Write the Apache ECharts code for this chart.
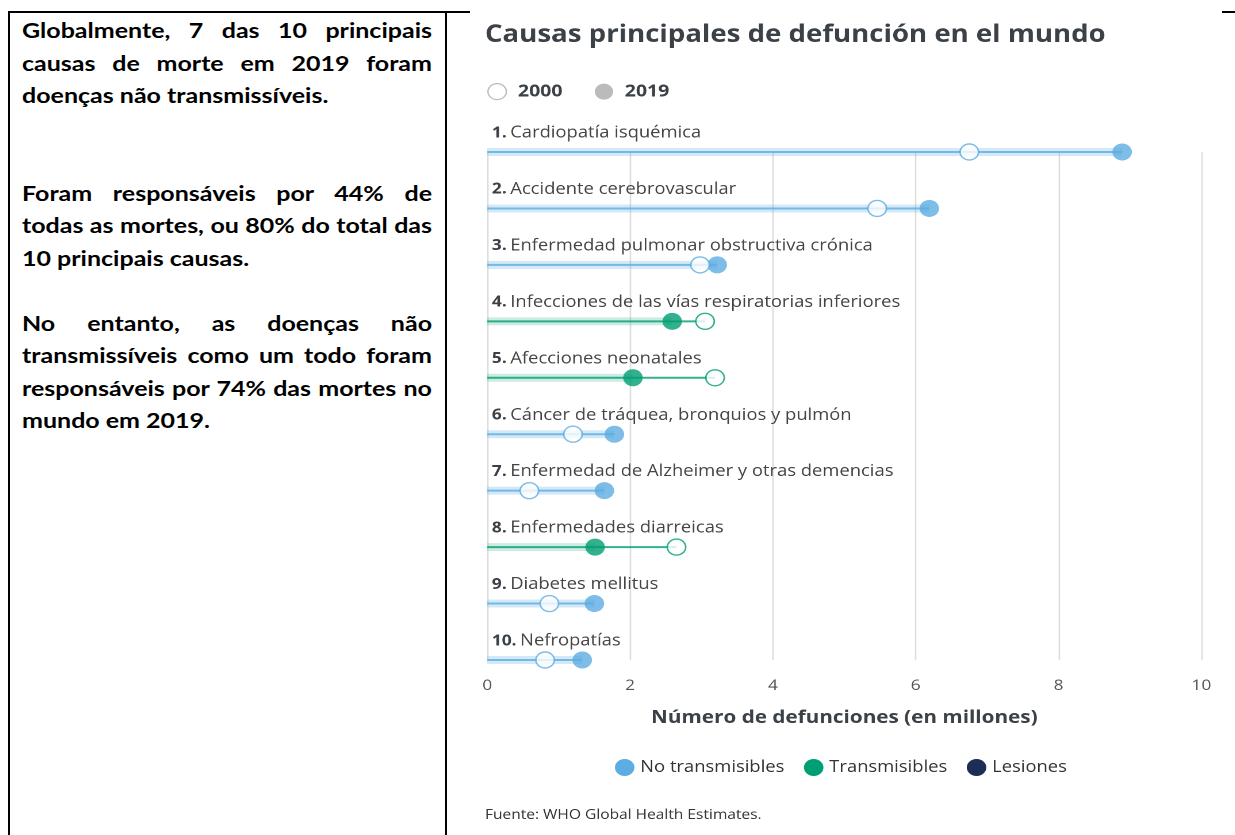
<!DOCTYPE html>
<html>
<head>
<meta charset="utf-8">
<script src="https://cdn.jsdelivr.net/npm/echarts@6/dist/echarts.min.js"></script>
<style>
    body { margin: 0; background: #fff; }
    #page { position: relative; width: 1235px; height: 835px; overflow: hidden; background: #fff; }
    .rule { position: absolute; background: #000; }
    #texto {
        position: absolute; left: 22px; top: 14px; width: 328px;
        transform: scaleX(1.25); transform-origin: 0 0;
        font-family: Lato, "Liberation Sans", sans-serif; font-weight: bold;
        font-size: 20px; line-height: 32.5px; color: #000;
    }
    #texto div { text-align: justify; text-align-last: justify; white-space: nowrap; }
    #texto div.fim { text-align-last: left; }
    #texto div.vazio { height: 32.5px; }
    /* la imagen original esta estirada en horizontal */
    #box { position: absolute; left: 447px; top: 0; width: 685px; height: 835px; transform: scaleX(1.15); transform-origin: 0 0; }
</style>
</head>
<body>
<div id="page">
    <div class="rule" style="left:8px;top:11px;width:462px;height:2px"></div>
    <div class="rule" style="left:1222px;top:11px;width:13px;height:2px"></div>
    <div class="rule" style="left:8px;top:11px;width:2px;height:824px"></div>
    <div class="rule" style="left:445px;top:11px;width:2px;height:824px"></div>
    <div id="texto">
        <div>Globalmente, 7 das 10 principais</div>
        <div>causas de morte em 2019 foram</div>
        <div class="fim">doenças não transmissíveis.</div>
        <div class="vazio"></div>
        <div class="vazio"></div>
        <div>Foram responsáveis por 44% de</div>
        <div>todas as mortes, ou 80% do total das</div>
        <div class="fim">10 principais causas.</div>
        <div class="vazio"></div>
        <div>No entanto, as doenças não</div>
        <div>transmissíveis como um todo foram</div>
        <div>responsáveis por 74% das mortes no</div>
        <div class="fim">mundo em 2019.</div>
    </div>
    <div id="box"></div>
</div>
<script>
// causas y valores (millones de defunciones)
var causas = ['Cardiopatía isquémica', 'Accidente cerebrovascular', 'Enfermedad pulmonar obstructiva crónica',
    'Infecciones de las vías respiratorias inferiores', 'Afecciones neonatales', 'Cáncer de tráquea, bronquios y pulmón',
    'Enfermedad de Alzheimer y otras demencias', 'Enfermedades diarreicas', 'Diabetes mellitus', 'Nefropatías'];
var muertes2000 = [6.75, 5.46, 2.98, 3.05, 3.19, 1.20, 0.59, 2.65, 0.87, 0.81];
var muertes2019 = [8.89, 6.19, 3.22, 2.59, 2.04, 1.78, 1.64, 1.51, 1.50, 1.33];
var grupoCausa = ['No transmisibles', 'No transmisibles', 'No transmisibles', 'Transmisibles', 'Transmisibles',
    'No transmisibles', 'No transmisibles', 'Transmisibles', 'No transmisibles', 'No transmisibles'];
var grupos = ['No transmisibles', 'Transmisibles', 'Lesiones'];
var xTicks = [0, 2, 4, 6, 8, 10];

var colores = { 'No transmisibles': '#5dade2', 'Transmisibles': '#009e73', 'Lesiones': '#1c2d57' };
var bandas = { 'No transmisibles': 'rgba(93,173,226,0.27)', 'Transmisibles': 'rgba(0,158,115,0.2)', 'Lesiones': 'rgba(28,45,87,0.2)' };
var fuente = 'Open Sans';

var myChart = echarts.init(document.getElementById('box'), null, { devicePixelRatio: 2 });

// bandas gruesas (0 -> 2019), una serie por grupo
var series = grupos.map(function(g) {
    return {
        name: g,
        type: 'bar',
        yAxisIndex: 0,
        barWidth: 8,
        barGap: '-100%',
        silent: true,
        itemStyle: { color: bandas[g] },
        data: muertes2019.map(function(v, i) { return grupoCausa[i] === g ? v : '-'; })
    };
});
// linea fina (0 -> maximo)
series.push({
    name: 'linea',
    type: 'bar',
    yAxisIndex: 1,
    barWidth: 2,
    silent: true,
    data: causas.map(function(c, i) {
        return { value: Math.max(muertes2000[i], muertes2019[i]), itemStyle: { color: colores[grupoCausa[i]], opacity: 0.8 } };
    })
});
series.push({
    name: '2019',
    type: 'scatter',
    yAxisIndex: 0,
    symbolSize: 17,
    z: 3,
    data: causas.map(function(c, i) {
        return { value: [muertes2019[i], i], itemStyle: { color: colores[grupoCausa[i]] } };
    })
});
series.push({
    name: '2000',
    type: 'scatter',
    yAxisIndex: 0,
    symbolSize: 16,
    z: 4,
    data: causas.map(function(c, i) {
        return { value: [muertes2000[i], i], itemStyle: { color: '#fff', borderColor: colores[grupoCausa[i]], borderWidth: 1.4 } };
    })
});

var option = {
    animation: false,
    textStyle: { fontFamily: fuente },
    title: {
        text: 'Causas principales de defunción en el mundo',
        left: 28,
        top: 18,
        textStyle: { fontFamily: fuente, fontSize: 24, fontWeight: 'bold', color: '#3b4147' }
    },
    legend: [{
        left: 30,
        top: 78,
        icon: 'circle',
        itemWidth: 16,
        itemHeight: 16,
        itemGap: 28,
        selectedMode: false,
        textStyle: { fontFamily: fuente, fontSize: 17, fontWeight: 'bold', color: '#3b4147', padding: [0, 0, 0, 5] },
        data: [
            { name: '2000', itemStyle: { color: '#fff', borderColor: '#aaa', borderWidth: 1.2 } },
            { name: '2019', itemStyle: { color: '#aaa' } }
        ]
    }, {
        left: 'center',
        top: 754,
        icon: 'circle',
        itemWidth: 17,
        itemHeight: 17,
        itemGap: 17,
        selectedMode: false,
        textStyle: { fontFamily: fuente, fontSize: 16, color: '#333' },
        data: grupos.map(function(g) { return { name: g, itemStyle: { color: colores[g] } }; })
    }],
    grid: { left: 35, right: 29, top: 152, bottom: 175 },
    xAxis: {
        type: 'value',
        min: xTicks[0],
        max: xTicks[xTicks.length - 1],
        interval: 2,
        name: 'Número de defunciones (en millones)',
        nameLocation: 'middle',
        nameGap: 49,
        nameTextStyle: { fontFamily: fuente, fontSize: 18, fontWeight: 'bold', color: '#3b4147' },
        axisLine: { show: false },
        axisTick: { show: false },
        axisLabel: { margin: 18, fontSize: 15, color: '#555', fontFamily: fuente },
        splitLine: { show: true, lineStyle: { color: '#dcdcdc', width: 1.3 } }
    },
    yAxis: [{
        type: 'category',
        data: causas,
        inverse: true,
        boundaryGap: false,
        axisLine: { show: false },
        axisTick: { show: false },
        splitLine: { show: false },
        axisLabel: {
            inside: true,
            interval: 0,
            margin: 4,
            verticalAlign: 'bottom',
            padding: [0, 0, 11, 0],
            formatter: function(value, idx) {
                return '{n|' + (idx + 1) + '.} {t|' + value + '}';
            },
            rich: {
                n: { fontFamily: fuente, fontSize: 15, fontWeight: 'bold', color: '#3b4147' },
                t: { fontFamily: fuente, fontSize: 16, color: '#444' }
            }
        }
    }, {
        type: 'category',
        data: causas,
        inverse: true,
        boundaryGap: false,
        show: false
    }],
    graphic: [{
        type: 'text',
        left: 33,
        top: 808,
        style: { text: 'Fuente: WHO Global Health Estimates.', fontFamily: fuente, fontSize: 13.5, fill: '#333' }
    }],
    series: series
};
myChart.setOption(option);
</script>
</body>
</html>
